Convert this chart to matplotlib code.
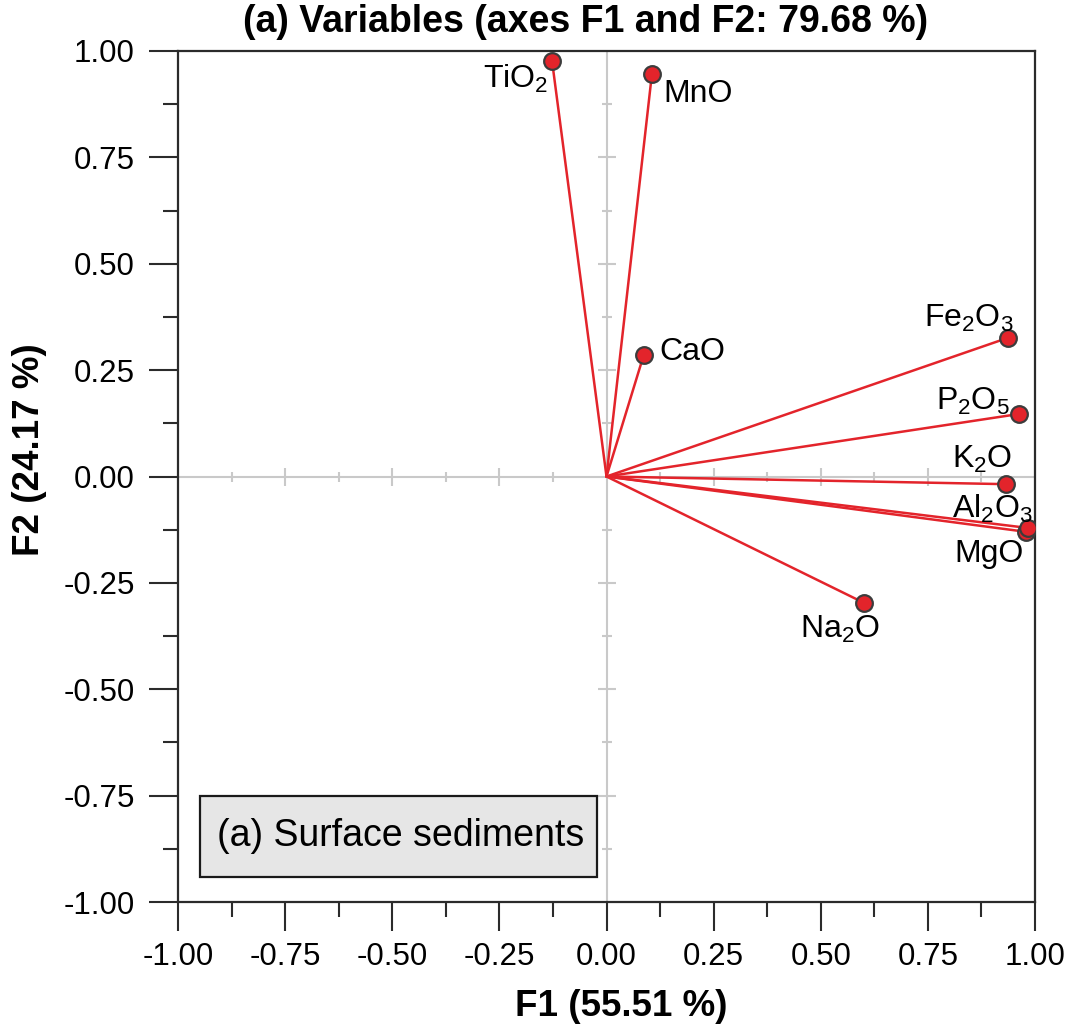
import numpy as np
import matplotlib
matplotlib.use("Agg")
import matplotlib.pyplot as plt
from matplotlib.patches import Rectangle

plt.rcParams['font.family'] = ['Liberation Sans', 'DejaVu Sans']
plt.rcParams['mathtext.fontset'] = 'custom'
plt.rcParams['mathtext.rm'] = 'Liberation Sans'
plt.rcParams['mathtext.it'] = 'Liberation Sans'
plt.rcParams['mathtext.bf'] = 'Liberation Sans:bold'

# PCA loadings
variables = ['MgO', 'TiO$_2$', 'MnO', 'CaO', 'Fe$_2$O$_3$', 'P$_2$O$_5$', 'K$_2$O', 'Al$_2$O$_3$', 'Na$_2$O']
f1 = [0.979, -0.127, 0.106, 0.087, 0.937, 0.963, 0.932, 0.984, 0.601]
f2 = [-0.130, 0.976, 0.946, 0.286, 0.326, 0.147, -0.018, -0.121, -0.297]

# label offsets in points and alignment
offsets = [(-2, -21.5), (-3, -19), (8, -20), (11.5, -3.6), (4.3, 8), (-6.5, 3), (5, 11.5), (3, 7), (11.5, -25)]
aligns = ['right', 'right', 'left', 'left', 'right', 'right', 'right', 'right', 'right']

red = '#e3242b'
grey = '#c9c9c9'

fig = plt.figure(figsize=(10.8, 10.31), dpi=100)
ax = fig.add_axes([178 / 1080, 1 - 902 / 1031, 857 / 1080, 851 / 1031])

ax.set_xlim(-1, 1)
ax.set_ylim(-1, 1)

# grey cross through origin with its own small ticks
ax.axhline(0, color=grey, lw=1.5, zorder=1)
ax.axvline(0, color=grey, lw=1.5, zorder=1)
cross_ticks = np.arange(-1, 1.001, 0.125)
for t in cross_ticks:
    if abs(t) < 1e-9 or abs(abs(t) - 1) < 1e-9:
        continue
    big = abs(t / 0.25 - round(t / 0.25)) < 1e-9
    ms = 13 if big else 7
    ax.plot(t, 0, marker='|', ms=ms, mew=1.5, color=grey, zorder=1)
    ax.plot(0, t, marker='_', ms=ms, mew=1.5, color=grey, zorder=1)

# vectors
for x, y in zip(f1, f2):
    ax.plot([0, x], [0, y], color=red, lw=1.8, zorder=2, solid_capstyle='round')
for x, y in zip(f1, f2):
    ax.plot(x, y, 'o', ms=12, mfc=red, mec='#3c3c3c', mew=1.6, zorder=3)

for name, x, y, off, ha in zip(variables, f1, f2, offsets, aligns):
    ax.annotate(name, (x, y), xytext=off, textcoords='offset points',
                ha=ha, va='baseline', fontsize=23, zorder=4)

# axes styling
ax.set_xticks(np.arange(-1, 1.001, 0.25))
ax.set_yticks(np.arange(-1, 1.001, 0.25))
ax.set_xticks(np.arange(-0.875, 1, 0.25), minor=True)
ax.set_yticks(np.arange(-0.875, 1, 0.25), minor=True)
ax.set_xticklabels([f"{v:.2f}" for v in np.arange(-1, 1.001, 0.25)])
ax.set_yticklabels([f"{v:.2f}" for v in np.arange(-1, 1.001, 0.25)])
ax.tick_params(which='major', length=21, width=1.5, direction='out', labelsize=22.5, color='#2b2b2b')
ax.tick_params(which='minor', length=10.5, width=1.5, direction='out', color='#2b2b2b')
ax.tick_params(axis='x', which='major', pad=8)
ax.tick_params(axis='y', which='major', pad=10)
for s in ax.spines.values():
    s.set_linewidth(1.6)
    s.set_color('#2b2b2b')

# inset label box
ax.add_patch(Rectangle((22 / 857, 25 / 851), 397 / 857, 81 / 851, transform=ax.transAxes,
                       facecolor='#e6e6e6', edgecolor='#1a1a1a', lw=1.6, zorder=5))
ax.text(39 / 857, 65.5 / 851, '(a) Surface sediments', transform=ax.transAxes,
        ha='left', va='center', fontsize=27, zorder=6)

fig.text(586 / 1080, 1 - 22 / 1031, '(a) Variables (axes F1 and F2: 79.68 %)',
         ha='center', va='center', fontsize=27, fontweight='bold')
fig.text(621 / 1080, 1 - 1007 / 1031, 'F1 (55.51 %)', ha='center', va='center',
         fontsize=26.5, fontweight='bold')
fig.text(30 / 1080, 1 - 450 / 1031, 'F2 (24.17 %)', ha='center', va='center',
         rotation=90, fontsize=26.5, fontweight='bold')

fig.savefig('out.png', dpi=100)
